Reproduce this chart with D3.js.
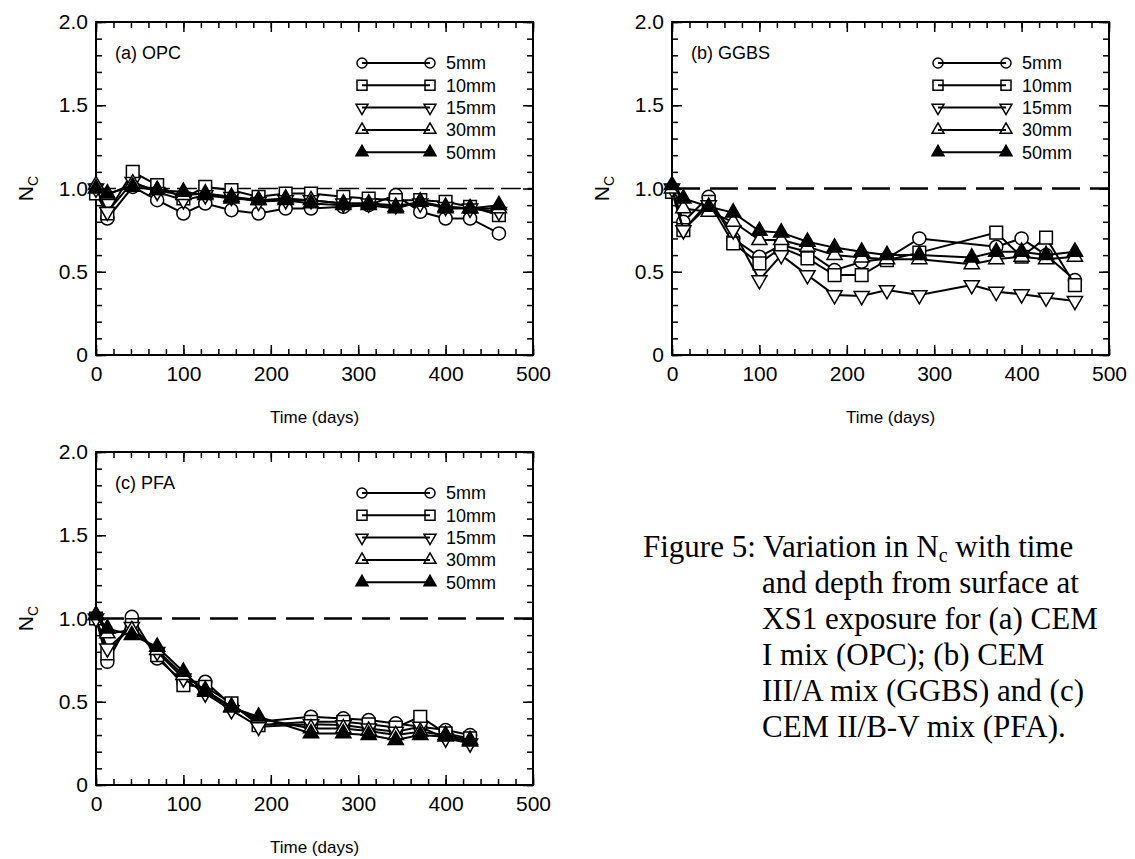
<!DOCTYPE html>
<html>
<head>
<meta charset="utf-8">
<script src="https://cdn.jsdelivr.net/npm/d3@7"></script>
<style>
body { margin: 0; background: #fff; }
text { font-family: "Liberation Sans", Arial, sans-serif; fill: #000; }
.cap { font-family: "Liberation Serif", "Times New Roman", serif; }
</style>
</head>
<body>
<svg id="fig" width="1135" height="859"></svg>
<script>
// depth series names, tick labels
var depths = ["5mm", "10mm", "15mm", "30mm", "50mm"];
var yTicks = [0, 0.5, 1.0, 1.5, 2.0];
var xTicks = [0, 100, 200, 300, 400, 500];

// (a) OPC
var opcDays = [0, 13, 42, 70, 100, 125, 155, 186, 217, 246, 283, 312, 343, 371, 400, 428, 461];
var opc5  = [1.00, 0.82, 1.01, 0.93, 0.85, 0.91, 0.87, 0.85, 0.88, 0.88, 0.89, 0.90, 0.96, 0.86, 0.82, 0.82, 0.73];
var opc10 = [0.97, 0.85, 1.10, 1.02, 0.94, 1.01, 0.99, 0.95, 0.97, 0.97, 0.95, 0.94, 0.93, 0.93, 0.92, 0.89, 0.84];
var opc15 = [1.00, 0.86, 1.04, 0.98, 0.93, 0.96, 0.95, 0.92, 0.93, 0.93, 0.91, 0.91, 0.90, 0.91, 0.89, 0.88, 0.86];
var opc30 = [1.02, 0.96, 1.03, 0.99, 0.96, 0.97, 0.95, 0.93, 0.94, 0.93, 0.91, 0.91, 0.89, 0.92, 0.89, 0.88, 0.88];
var opc50 = [1.00, 0.97, 1.01, 0.99, 0.98, 0.96, 0.94, 0.93, 0.93, 0.91, 0.90, 0.90, 0.88, 0.92, 0.88, 0.88, 0.90];

// (b) GGBS  (null = no reading)
var ggbsDays = [0, 13, 42, 70, 100, 125, 155, 186, 217, 246, 283, 343, 371, 400, 428, 461];
var ggbs5  = [1.00, 0.80, 0.95, 0.70, 0.59, 0.66, 0.62, 0.51, 0.56, 0.58, 0.70, null, 0.65, 0.70, 0.60, 0.45];
var ggbs10 = [0.98, 0.75, 0.92, 0.67, 0.55, 0.645, 0.58, 0.48, 0.48, 0.57, 0.615, null, 0.735, 0.59, 0.705, 0.42];
var ggbs15 = [1.00, 0.75, 0.90, 0.75, 0.45, 0.60, 0.48, 0.36, 0.355, 0.39, 0.36, 0.42, 0.38, 0.365, 0.345, 0.325];
var ggbs30 = [1.00, 0.88, 0.86, 0.80, 0.69, 0.69, 0.65, 0.60, 0.585, 0.575, 0.575, 0.545, 0.575, 0.59, 0.575, 0.59];
var ggbs50 = [1.02, 0.94, 0.89, 0.855, 0.745, 0.735, 0.68, 0.645, 0.62, 0.60, 0.60, 0.585, 0.62, 0.62, 0.60, 0.62];

// (c) PFA
var pfaDays = [0, 13, 41, 70, 100, 125, 155, 186, 246, 283, 312, 343, 371, 400, 428];
var pfa5  = [1.00, 0.74, 1.01, 0.76, 0.62, 0.62, 0.48, 0.38, 0.41, 0.40, 0.39, 0.37, 0.35, 0.33, 0.30];
var pfa10 = [1.00, 0.79, 0.96, 0.78, 0.60, 0.59, 0.49, 0.36, 0.38, 0.38, 0.365, 0.345, 0.41, 0.31, 0.28];
var pfa15 = [1.00, 0.82, 0.95, 0.80, 0.64, 0.55, 0.45, 0.35, 0.365, 0.36, 0.34, 0.32, 0.35, 0.28, 0.25];
var pfa30 = [1.02, 0.91, 0.93, 0.81, 0.66, 0.57, 0.47, 0.40, 0.34, 0.34, 0.325, 0.30, 0.32, 0.30, 0.27];
var pfa50 = [1.02, 0.94, 0.90, 0.83, 0.68, 0.56, 0.465, 0.41, 0.31, 0.31, 0.30, 0.27, 0.30, 0.29, 0.26];

var svg = d3.select("#fig");
var W = 437, H = 333;

// marker look per depth
var symTypes = [d3.symbolCircle, d3.symbolSquare, d3.symbolTriangle, d3.symbolTriangle, d3.symbolTriangle];
var symRot   = [0, 0, 180, 0, 0];
var symFill  = ["#fff", "#fff", "#fff", "#fff", "#000"];
var symSize  = [135, 160, 100, 100, 100];
var legSize  = [80, 100, 62, 62, 62];

function marker(g, i, x, y, size) {
	g.append("path")
		.attr("d", d3.symbol().type(symTypes[i]).size(size)())
		.attr("transform", "translate(" + x + "," + y + ") rotate(" + symRot[i] + ")")
		.attr("fill", symFill[i])
		.attr("stroke", "#000")
		.attr("stroke-width", 1.5);
}

function drawPanel(p) {
	var x = d3.scaleLinear().domain([0, 500]).range([p.x0, p.x0 + W]);
	var y = d3.scaleLinear().domain([0, 2]).range([p.y0 + H, p.y0]);
	var g = svg.append("g");

	//minor + major ticks on all four sides, pointing in
	function ticks(axis, tx, ty, vals, len, fmt, pad) {
		var a = g.append("g").attr("transform", "translate(" + tx + "," + ty + ")")
			.call(axis.tickValues(vals).tickSize(-len).tickPadding(pad || 3).tickFormat(fmt || ""));
		a.select(".domain").remove();
		a.selectAll("line").attr("stroke-width", 1.5);
		a.attr("font-family", null).attr("font-size", 21);
		return a;
	}
	var xMinor = d3.range(0, 501, 20), yMinor = d3.range(0, 2.001, 0.1);
	ticks(d3.axisBottom(x), 0, p.y0 + H, xMinor, 6);
	ticks(d3.axisTop(x), 0, p.y0, xMinor, 6);
	ticks(d3.axisLeft(y), p.x0, 0, yMinor, 6);
	ticks(d3.axisRight(y), p.x0 + W, 0, yMinor, 6);
	ticks(d3.axisTop(x), 0, p.y0, xTicks, 10);
	ticks(d3.axisRight(y), p.x0 + W, 0, yTicks, 10);
	ticks(d3.axisBottom(x), 0, p.y0 + H, xTicks, 10, d3.format("d"), 11);
	ticks(d3.axisLeft(y), p.x0, 0, yTicks, 10, function (d) { return d === 0 ? "0" : d3.format(".1f")(d); }, 8);

	g.append("rect")
		.attr("x", p.x0).attr("y", p.y0).attr("width", W).attr("height", H)
		.attr("fill", "none").attr("stroke", "#000").attr("stroke-width", 2);

	// reference line N_c = 1
	g.append("line")
		.attr("x1", x(0)).attr("x2", x(500)).attr("y1", y(1)).attr("y2", y(1))
		.attr("stroke", "#000").attr("stroke-width", p.dashW)
		.attr("stroke-dasharray", p.dash.join(","));

	var line = d3.line().x(function (d) { return x(d[0]); }).y(function (d) { return y(d[1]); });

	p.series.forEach(function (s, i) {
		var pts = p.days.map(function (d, k) { return [d, s[k]]; })
			.filter(function (d) { return d[1] != null; });
		g.append("path").attr("d", line(pts))
			.attr("fill", "none").attr("stroke", "#000").attr("stroke-width", 2);
		pts.forEach(function (d) { marker(g, i, x(d[0]), y(d[1]), symSize[i]); });
	});

	// legend
	depths.forEach(function (name, i) {
		var ly = p.y0 + 41 + i * 22.3;
		var lx1 = p.x0 + 266, lx2 = p.x0 + 334;
		marker(g, i, lx1, ly, legSize[i]);
		marker(g, i, lx2, ly, legSize[i]);
		g.append("line").attr("x1", lx1).attr("x2", lx2).attr("y1", ly).attr("y2", ly)
			.attr("stroke", "#000").attr("stroke-width", 2);
		g.append("text").attr("x", p.x0 + 350).attr("y", ly).attr("dy", "0.36em")
			.attr("font-size", 18).text(name);
	});

	g.append("text").attr("x", p.x0 + 19).attr("y", p.y0 + 31).attr("dy", "0.36em")
		.attr("font-size", 18).text(p.label);

	g.append("text").attr("x", p.x0 + W / 2).attr("y", p.y0 + H + 68)
		.attr("text-anchor", "middle").attr("font-size", 17).text("Time (days)");

	var yl = g.append("text")
		.attr("transform", "translate(" + (p.x0 - 63) + "," + (p.y0 + H / 2) + ") rotate(-90)")
		.attr("text-anchor", "middle").attr("font-size", 21);
	yl.append("tspan").text("N");
	yl.append("tspan").attr("font-size", 14).attr("dy", 5).text("C");
}

var panels = [
	{ label: "(a) OPC",  days: opcDays,  series: [opc5, opc10, opc15, opc30, opc50],      x0: 96,  y0: 22,  dash: [20, 7],  dashW: 1.5 },
	{ label: "(b) GGBS", days: ggbsDays, series: [ggbs5, ggbs10, ggbs15, ggbs30, ggbs50], x0: 672, y0: 22,  dash: [28, 10], dashW: 2.5 },
	{ label: "(c) PFA",  days: pfaDays,  series: [pfa5, pfa10, pfa15, pfa30, pfa50],      x0: 96,  y0: 452, dash: [28, 10], dashW: 2.5 }
];
panels.forEach(drawPanel);

// caption
var capLines = ["and depth from surface at", "XS1 exposure for (a) CEM", "I mix (OPC); (b) CEM",
	"III/A mix (GGBS) and (c)", "CEM II/B-V mix (PFA)."];
var cap = svg.append("g").attr("class", "cap").attr("font-size", 31);
var first = cap.append("text").attr("class", "cap").attr("x", 643).attr("y", 557);
first.append("tspan").text("Figure 5: Variation in N");
first.append("tspan").attr("font-size", 20).attr("dy", 5).text("c");
first.append("tspan").attr("dy", -5).text(" with time");
capLines.forEach(function (t, i) {
	cap.append("text").attr("class", "cap").attr("x", 762).attr("y", 593 + i * 36).text(t);
});
</script>
</body>
</html>
